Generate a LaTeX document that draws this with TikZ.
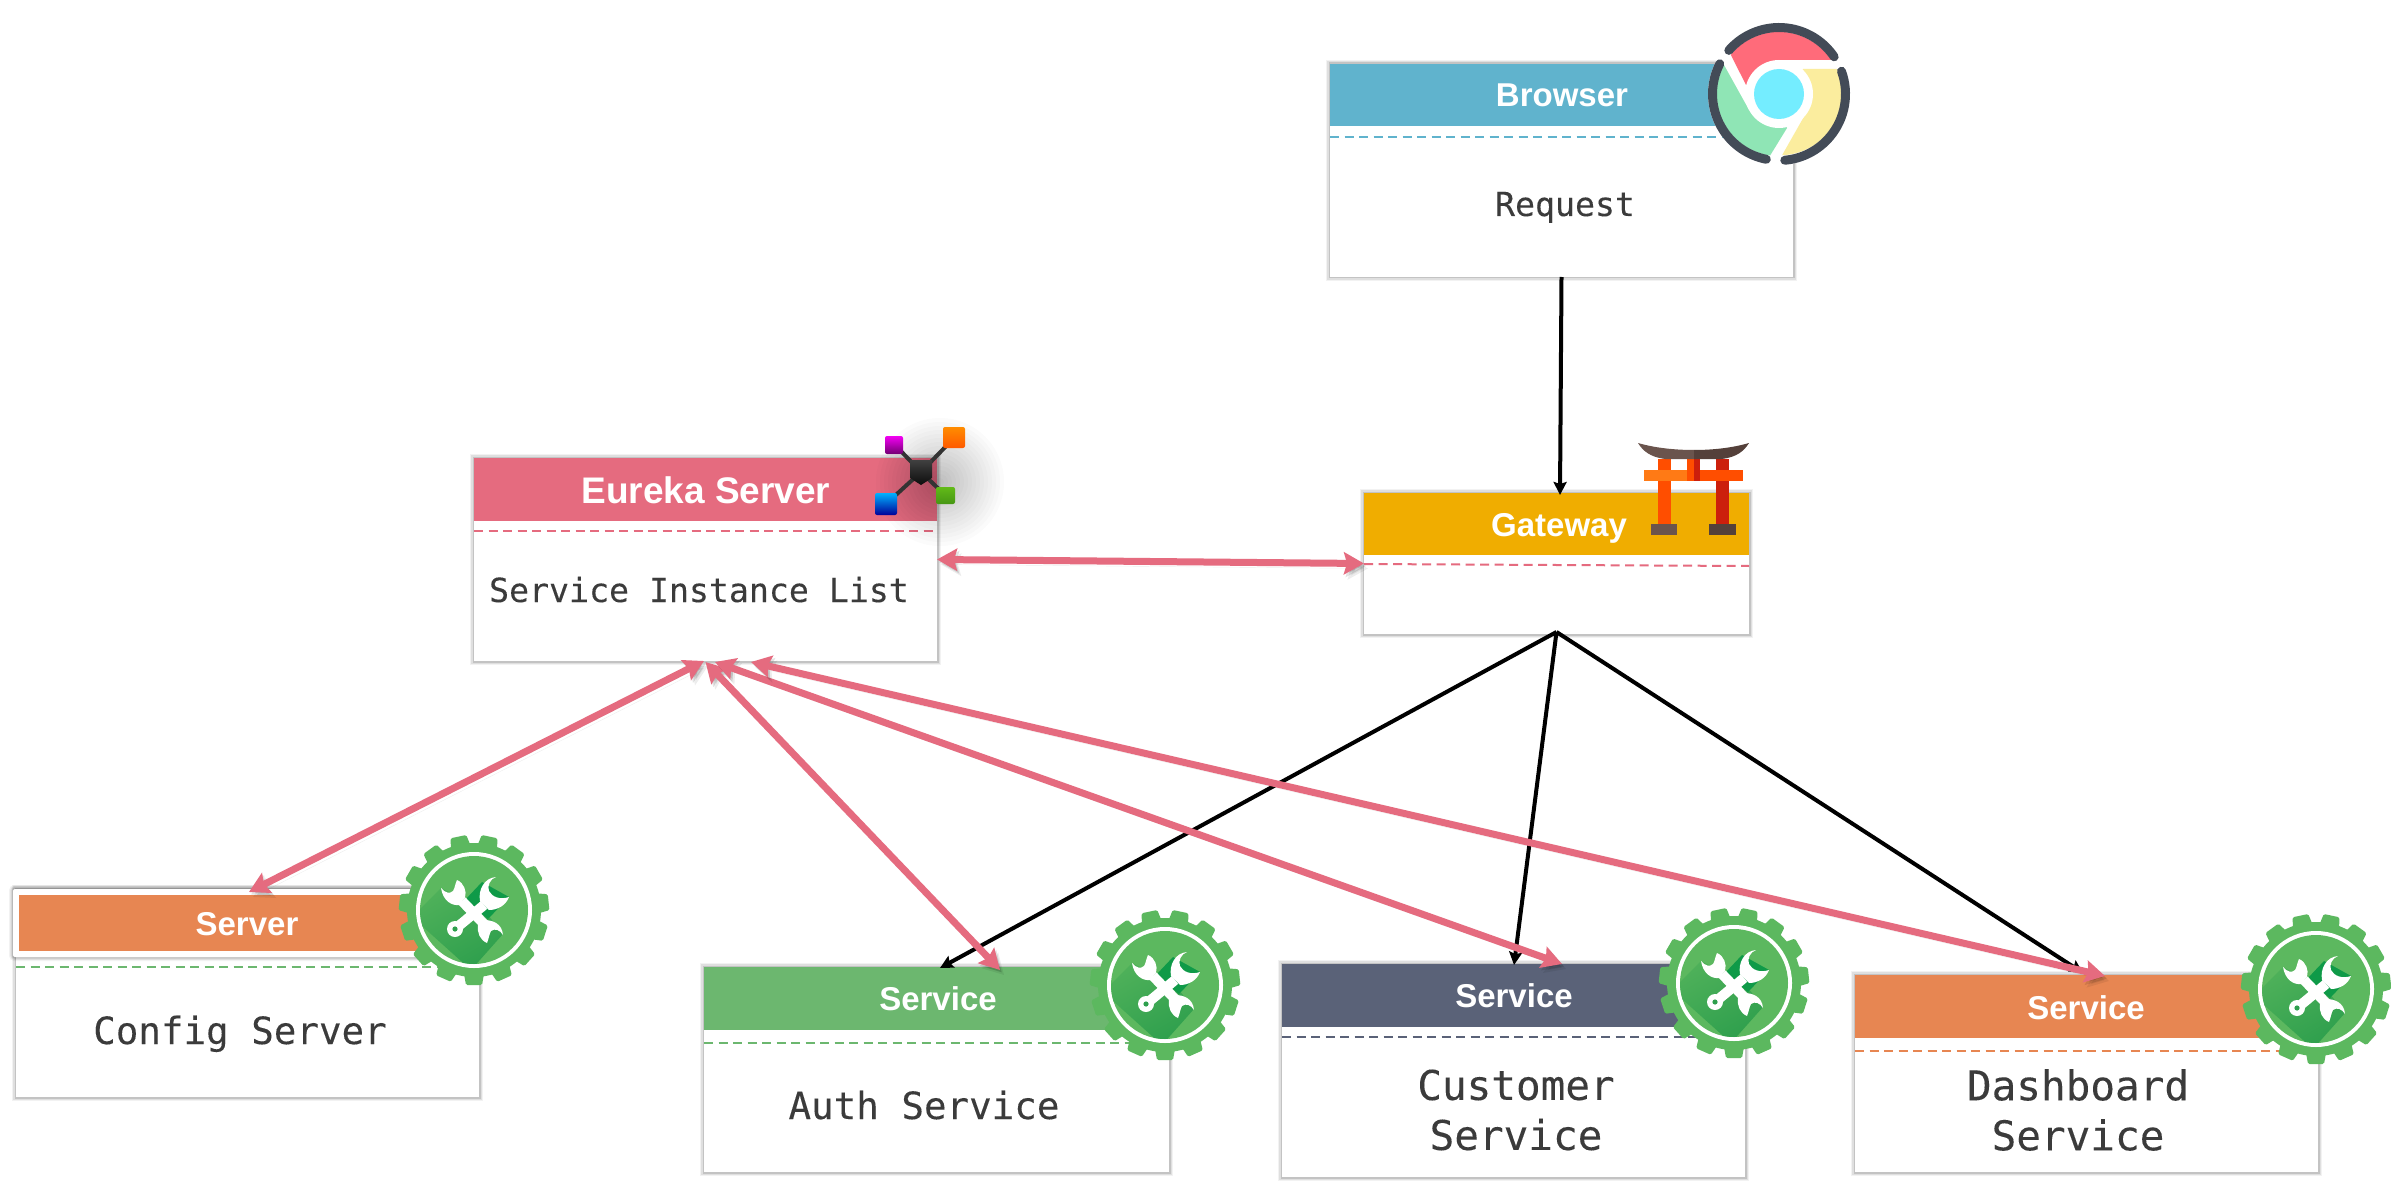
\documentclass[tikz,border=0pt]{standalone}
\usepackage{fontspec}
\setmainfont{Liberation Sans}
\newfontfamily\monoface[FakeBold=0.15]{DejaVu Sans Mono}
\usetikzlibrary{arrows.meta}
\definecolor{cPink}{HTML}{E56B7F}
\definecolor{cGold}{HTML}{F0AD00}
\definecolor{cBlue}{HTML}{60B3CD}
\definecolor{cOrange}{HTML}{E78652}
\definecolor{cGreen}{HTML}{6CB76F}
\definecolor{cSlate}{HTML}{5A6278}
\definecolor{cGear}{HTML}{5CB85F}
\definecolor{cGearDark}{HTML}{2E9F4D}
\definecolor{cGearDeep}{HTML}{0F9A48}
\definecolor{cInk}{HTML}{3B3B3B}
\definecolor{cChrome}{HTML}{434B57}
\tikzset{
  softedge/.style={
    preaction={draw=black,draw opacity=.05,line width=8pt},
    preaction={draw=black,draw opacity=.08,line width=5.5pt},
    preaction={draw=black,draw opacity=.12,line width=3pt}},
  cardbody/.style={fill=white,inner sep=0pt,outer sep=0pt,softedge},
  carddash/.style={line width=2pt,dash pattern=on 9pt off 5.5pt},
  headtext/.style={text=white,anchor=base,font=\fontsize{33}{33}\selectfont\bfseries,inner sep=0pt},
  monotext/.style={text=cInk,anchor=base,inner sep=0pt,align=center},
  monoA/.style={monotext,font=\fontsize{33.2}{40}\monoface},
  monoB/.style={monotext,font=\fontsize{37.5}{44}\monoface},
  monoC/.style={monotext,font=\fontsize{41}{50}\monoface,anchor=center},
  blacklink/.style={draw=black,line width=4pt,-{Stealth[length=13pt,width=13pt,inset=2pt]}},
  pinklink/.style={draw=cPink,line width=7pt,{Stealth[length=20pt,width=22pt,inset=3pt]}-{Stealth[length=20pt,width=22pt,inset=3pt]},
    preaction={draw=black,opacity=.07,transform canvas={shift={(4pt,-5pt)}}},
    preaction={draw=black,opacity=.11,transform canvas={shift={(2pt,-2.5pt)}}}},
  gearicon/.pic={
    \begin{scope}[y=1pt]
      \fill[cGear] (0,0) circle (67);
      \foreach \a in {270,294,...,606}
        \fill[cGear,rotate=\a,rounded corners=1.5pt] (64,-10) -- (75,-8) -- (75,8) -- (64,10) -- cycle;
      \fill[white] (0,0) circle (58);
      \fill[cGear] (0,0) circle (54);
      \begin{scope}
        \clip (0,0) circle (54);
        \shade[left color=cGear!70!cGearDark,right color=cGearDark,shading angle=30]
          (-33,22) -- (-62,-7) -- (-3,-60) -- (29,-24) -- (10,0) -- cycle;
        \fill[cGearDeep] (8,28) -- (-9,10) -- (14,-9) -- (35,13) -- cycle;
      \end{scope}
      \fill[white] (-33,22) .. controls (-29,17) and (-24,16) .. (-21,19) .. controls (-19,22) and (-19,26) .. (-17,30)
         .. controls (-10,27) and (-7,19) .. (-9,12) -- (-15,5) .. controls (-22,4) and (-31,9) .. (-33,22) -- cycle;
      \fill[white] (29,-25) .. controls (26,-20) and (21,-18) .. (17,-21) .. controls (15,-25) and (15,-28) .. (13,-33)
         .. controls (6,-30) and (3,-23) .. (4,-15) -- (10,-10) .. controls (18,-10) and (28,-13) .. (29,-25) -- cycle;
      \fill[white] (22,33) .. controls (16,31) and (13,24) .. (15,19) .. controls (18,13) and (26,10) .. (35,13)
         .. controls (32,5) and (24,0) .. (15,0) -- (6,9) .. controls (4,20) and (10,32) .. (22,33) -- cycle;
      \draw[white,line width=10pt] (-12,9) -- (10,-14);
      \draw[white,line width=10pt] (10,5) -- (-19,-19);
      \fill[white] (-19,-19) circle (8);
      \fill[cGearDark] (-19,-19) circle (2.6);
    \end{scope}
  },
  chromeicon/.pic={
    \begin{scope}[y=1pt]
      \fill[white] (0,0) circle (71);
      \fill[fill={rgb,255:red,255;green,107;blue,122}] (52,34) arc[start angle=33,end angle=141,radius=62] -- (-33,9) -- (0,0) -- (0,34) -- cycle;
      \fill[fill={rgb,255:red,251;green,237;blue,158}] (58,25) arc[start angle=23,end angle=-88,radius=62] -- (31,-12) -- (0,0) -- (24,25) -- cycle;
      \fill[fill={rgb,255:red,143;green,229;blue,181}] (-55,29) arc[start angle=152,end angle=262,radius=62] -- (8,-34) -- (0,0) -- (-30,-16) -- cycle;
      \fill[white] (0,0) circle (34);
      \fill[fill={rgb,255:red,116;green,237;blue,255}] (0,0) circle (25);
      \draw[cChrome,line width=9pt,line cap=round] (139:66.5) arc[start angle=139,end angle=34,radius=66.5];
      \draw[cChrome,line width=9pt,line cap=round] (153:66.5) arc[start angle=153,end angle=259,radius=66.5];
      \draw[cChrome,line width=9pt,line cap=round] (20:66.5) arc[start angle=20,end angle=-85,radius=66.5];
    \end{scope}
  }
}
% name, left, top, right, bottom, header bottom, header colour
\newcommand\cardbox[7]{%
  \pgfmathsetmacro\cw{#4-#2}\pgfmathsetmacro\ch{#5-#3}%
  \pgfmathsetmacro\cx{(#2+#4)/2}\pgfmathsetmacro\cy{(#3+#5)/2}%
  \node[cardbody,minimum width=\cw pt,minimum height=\ch pt] (#1) at (\cx,\cy) {};
  \fill[#7] (#2,#3) rectangle (#4,#6);
}
\begin{document}
\begin{tikzpicture}[x=1pt,y=-1pt]
\useasboundingbox (0,0) rectangle (2391,1190);
\fill[white] (0,0) rectangle (2391,1190);

\cardbox{browser}{1330}{64}{1793}{277}{126}{cBlue}
\draw[carddash,draw=cBlue] (1330,137) -- (1793,137);

\cardbox{eureka}{474}{458}{937}{661}{521}{cPink}
\draw[carddash,draw=cPink] (474,531) -- (937,531);

\cardbox{gateway}{1364}{493}{1749}{634}{555}{cGold}
\draw[carddash,draw=cPink] (1364,564) -- (1749,566);

\cardbox{config}{16}{889}{479}{1097}{889}{cOrange}
\fill[white,rounded corners=2pt,softedge] (13,889) rectangle (440,957);
\fill[cOrange] (19,895) rectangle (440,951);
\draw[carddash,draw=cGreen] (16,967) -- (440,967);

\cardbox{auth}{704}{967}{1169}{1172}{1030}{cGreen}
\draw[carddash,draw=cGreen] (704,1043) -- (1140,1043);

\cardbox{customer}{1282}{964}{1745}{1177}{1027}{cSlate}
\draw[carddash,draw=cSlate] (1282,1037) -- (1700,1037);

\cardbox{dashboard}{1855}{975}{2318}{1172}{1038}{cOrange}
\draw[carddash,draw=cOrange] (1855,1051) -- (2290,1051);

% titles
\node[headtext] (tBrowser) at (1562,107) {Browser};
\node[headtext,font=\fontsize{37}{37}\selectfont\bfseries] (tEureka) at (706,503) {Eureka Server};
\node[headtext] (tGateway) at (1559,536) {Gateway};
\node[headtext] (tConfig) at (247,935) {Server};
\node[headtext] (tAuth) at (938,1010) {Service};
\node[headtext] (tCustomer) at (1514,1007) {Service};
\node[headtext] (tDashboard) at (2086,1019) {Service};

% body texts
\node[monoA] (bRequest) at (1565,216) {Request};
\node[monoA] (bInstances) at (699,602) {Service Instance List};
\node[monoB] (bConfig) at (240,1044) {Config Server};
\node[monoB] (bAuth) at (924,1119) {Auth Service};
\node[monoC] (bCustomer) at (1516,1110) {Customer\\Service};
\node[monoC] (bDashboard) at (2078,1110) {Dashboard\\Service};

% connectors
\draw[blacklink] (browser.south) -- ([shift={(3.5pt,-2pt)}]gateway.north);
\draw[blacklink] ([yshift=2pt]gateway.south) -- ([shift={(3.5pt,-1pt)}]auth.north);
\draw[blacklink] ([yshift=2pt]gateway.south) -- ([shift={(0.5pt,-1pt)}]customer.north);
\draw[blacklink] ([yshift=2pt]gateway.south) -- ([shift={(-3.5pt,2pt)}]dashboard.north);

\draw[pinklink] (eureka.east) -- (gateway.west);
\draw[pinklink] ([xshift=-1.5pt]eureka.south) -- ([shift={(1.5pt,-3pt)}]config.north);
\draw[pinklink] ([yshift=-1pt]eureka.south) -- ([shift={(63.5pt,-3pt)}]auth.north);
\draw[pinklink] ([shift={(9.5pt,-1pt)}]eureka.south) -- ([xshift=48.5pt]customer.north);
\draw[pinklink] ([shift={(45.5pt,-1pt)}]eureka.south) -- ([shift={(18.5pt,-1pt)}]dashboard.north);

% gears
\pic at (474,910) {gearicon};
\pic at (1165,985) {gearicon};
\pic at (1734,983) {gearicon};
\pic at (2316,989) {gearicon};

% chrome
\pic at (1779,94) {chromeicon};

% hub icon
\foreach \r in {4,8,...,64}
  \fill[black,fill opacity=.016] (940,482) circle (\r);
\draw[black!80,line width=4pt] (921,472) -- (954,438);
\draw[black!80,line width=4pt] (921,472) -- (895,445);
\draw[black!80,line width=4pt] (921,472) -- (886,504);
\draw[black!80,line width=4pt] (921,472) -- (945,495);
\shade[top color=black!75,bottom color=black!95] (910,460) -- (932,460) -- (932,478) -- (921,485) -- (910,478) -- cycle;
\shade[rounded corners=2pt,top color=orange!90!yellow,bottom color=orange!70!red] (943,427) rectangle (965,448);
\shade[rounded corners=2pt,top color=magenta!90!violet,bottom color=violet!90!black] (885,436) rectangle (903,454);
\shade[rounded corners=2pt,top color=cyan!70!blue,bottom color=blue!60!black] (875,493) rectangle (897,515);
\shade[rounded corners=2pt,top color={rgb,255:red,98;green,186;blue,24},bottom color={rgb,255:red,70;green,150;blue,20}] (936,487) rectangle (955,504);

% torii
\definecolor{tRoofA}{HTML}{6A544D}\definecolor{tRoofB}{HTML}{54403A}
\definecolor{tRedA}{HTML}{FF4E00}\definecolor{tRedB}{HTML}{CC1F0C}\definecolor{tBar}{HTML}{FF7A15}
\fill[tRedA] (1658,459) rectangle (1671,524);
\fill[tRedB] (1716,459) rectangle (1729,524);
\fill[tRedA] (1687,459) rectangle (1694,481);
\fill[tRedB] (1694,459) rectangle (1700,481);
\fill[tBar] (1644,470) rectangle (1687,481);
\fill[tRedA] (1700,470) rectangle (1743,481);
\fill[tRoofA] (1638,443) .. controls (1655,448) and (1675,450) .. (1694,450) -- (1694,459) -- (1665,459) .. controls (1650,457) and (1643,451) .. (1638,443) -- cycle;
\fill[tRoofB] (1749,443) .. controls (1732,448) and (1712,450) .. (1694,450) -- (1694,459) -- (1722,459) .. controls (1737,457) and (1744,451) .. (1749,443) -- cycle;
\fill[tRoofA] (1651,524) rectangle (1677,535);
\fill[tRoofB] (1709,524) rectangle (1736,535);
\end{tikzpicture}
\end{document}
